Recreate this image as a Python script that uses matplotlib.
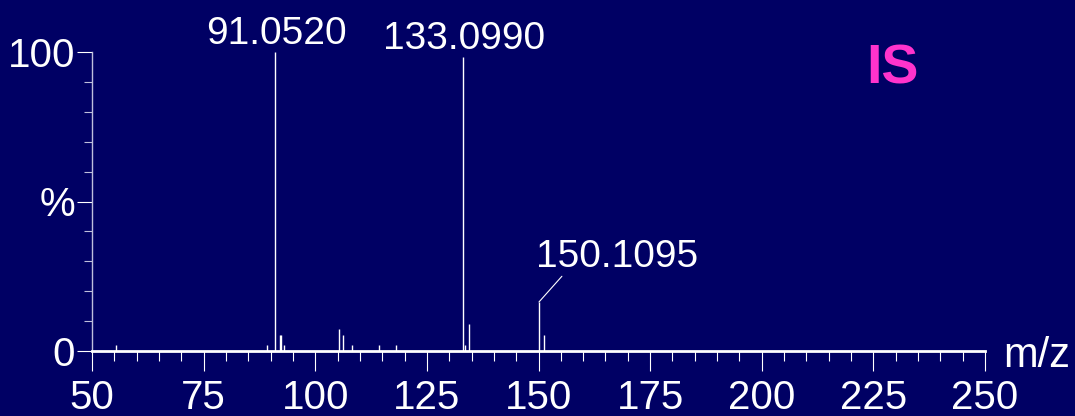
import matplotlib
matplotlib.use("Agg")
import matplotlib.pyplot as plt
from matplotlib.ticker import MultipleLocator

plt.rcParams['font.family'] = ['Liberation Sans', 'DejaVu Sans']

# ---- data ----
mz = [55.4, 89.3, 91.052, 92.2, 92.4, 92.9, 105.3, 106.3, 108.3, 114.3, 118.0,
      133.099, 133.6, 134.4, 150.1095, 151.2]
intensity = [2.0, 2.0, 100.0, 5.4, 5.4, 2.0, 7.3, 5.4, 1.9, 1.9, 1.9,
             98.3, 2.0, 9.0, 16.4, 5.4]
peak_labels_mz = [91.052, 133.099, 150.1095]
peak_labels_int = [100.0, 98.3, 16.4]
peak_labels = ['91.0520', '133.0990', '150.1095']
x_ticks = [50, 75, 100, 125, 150, 175, 200, 225, 250]
y_ticks = [0, 50, 100]
y_ticklabels = ['0', '%', '100']
title_text = 'IS'
x_label = 'm/z'

BG = '#000064'
FG = 'white'
AX_GRAY = '#BFBFDD'
FS = 28

fig = plt.figure(figsize=(10.75, 4.16), dpi=100, facecolor=BG)
ax = fig.add_axes([92/1075, 65/416, (985-92)/1075, (351-52)/416], facecolor=BG)

ax.vlines(mz, 0, intensity, colors=FG, linewidth=1.0)

ax.set_xlim(50, 250)
ax.set_ylim(0, 100)

for s in ['top', 'right']:
    ax.spines[s].set_visible(False)
ax.spines['bottom'].set_color(FG)
ax.spines['bottom'].set_linewidth(2.0)
ax.spines['left'].set_color(AX_GRAY)
ax.spines['left'].set_linewidth(1.0)

ax.set_xticks(x_ticks)
ax.set_xticklabels([str(t) for t in x_ticks])
ax.xaxis.set_minor_locator(MultipleLocator(5))
ax.set_yticks(y_ticks)
ax.set_yticklabels(y_ticklabels)
ax.yaxis.set_minor_locator(MultipleLocator(10))

ax.tick_params(axis='x', which='major', direction='out', length=14.4, width=0.8,
               color=FG, labelcolor=FG, labelsize=FS + 1, pad=6)
ax.tick_params(axis='x', which='minor', direction='out', length=7.2, width=0.8, color=FG)
ax.tick_params(axis='y', which='major', direction='out', length=10.8, width=0.8,
               color=FG, labelcolor=FG, labelsize=FS + 1, pad=1.5)
ax.tick_params(axis='y', which='minor', direction='out', length=5.8, width=0.8, color=AX_GRAY)

# peak labels
for m, i, lab in zip(peak_labels_mz, peak_labels_int, peak_labels):
    if i > 50:
        ax.annotate(lab, xy=(m, i), xytext=(1, 5.5), textcoords='offset points',
                    ha='center', va='baseline', color=FG, fontsize=FS,
                    annotation_clip=False)
    else:
        ax.annotate('', xy=(m, i), xytext=(16.5, 18.5), textcoords='offset points',
                    arrowprops=dict(arrowstyle='-', color=FG, lw=0.8,
                                    shrinkA=0, shrinkB=0),
                    annotation_clip=False)
        ax.annotate(lab, xy=(m, i), xytext=(56, 25), textcoords='offset points',
                    ha='center', va='baseline', color=FG, fontsize=FS,
                    annotation_clip=False)

ax.text(229.2, 89.6, title_text, color='#FF33CC', fontsize=40, fontweight='bold',
        ha='center', va='baseline')
ax.text(254.0, -5.3, x_label, color=FG, fontsize=30, ha='left', va='baseline',
        clip_on=False)

fig.savefig('out.png', dpi=100, facecolor=BG)
